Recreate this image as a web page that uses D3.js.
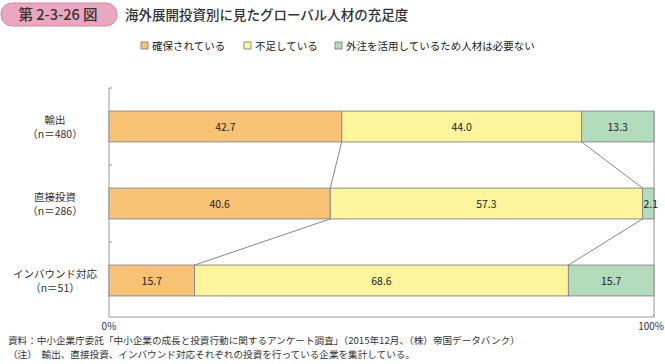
<!DOCTYPE html>
<html>
<head>
<meta charset="utf-8">
<script src="https://cdn.jsdelivr.net/npm/d3@7"></script>
<style>
  body { margin: 0; background: #fff; }
  svg { font-family: "Noto Sans CJK JP", "Noto Sans", sans-serif; }
</style>
</head>
<body>
<div id="container"></div>
<script>
/* DATA */
const categories = ["輸出", "直接投資", "インバウンド対応"];
const sampleSizes = ["（n＝480）", "（n＝286）", "（n＝51）"];
const seriesNames = ["確保されている", "不足している", "外注を活用しているため人材は必要ない"];
const secured = [42.7, 40.6, 15.7];
const lacking = [44.0, 57.3, 68.6];
const outsourced = [13.3, 2.1, 15.7];
const xTickLabels = ["0%", "100%"];

/* CONSTANTS */
const width = 665, height = 364;
const colors = ["#f9c375", "#fff59d", "#b3dcbd"];
const plot = { left: 109, right: 654, top: 88, bottom: 319 };

const svg = d3.select("#container").append("svg")
  .attr("width", width)
  .attr("height", height);

// title badge
svg.append("rect")
  .attr("x", 1).attr("y", 3).attr("width", 116).attr("height", 23)
  .attr("rx", 11)
  .attr("fill", "#e9a8bf").attr("stroke", "#d787a4");
svg.append("text")
  .attr("x", 58).attr("y", 20)
  .attr("text-anchor", "middle")
  .attr("font-size", 14.5).attr("font-weight", 500).attr("fill", "#333")
  .text("第 2-3-26 図");
svg.append("text")
  .attr("x", 125).attr("y", 20)
  .attr("font-size", 13.5).attr("font-weight", 500).attr("fill", "#333")
  .text("海外展開投資別に見たグローバル人材の充足度");

// scales
const xScale = d3.scaleLinear().domain([0, 100]).range([plot.left, plot.right]);
const yScale = d3.scaleBand().domain(categories).range([plot.top, plot.bottom]).paddingInner(0.6).paddingOuter(0.3);

// legend
const legendX = [141, 244, 335];
const legend = svg.append("g");
seriesNames.forEach((name, i) => {
  legend.append("rect")
    .attr("x", legendX[i]).attr("y", 42).attr("width", 7).attr("height", 7)
    .attr("fill", colors[i]).attr("stroke", "#777").attr("stroke-width", 0.8);
  legend.append("text")
    .attr("x", legendX[i] + 11).attr("y", 49.5)
    .attr("font-size", 10.5).attr("fill", "#222")
    .text(name);
});

// axis frame
const base = plot.bottom - 2;
const frame = svg.append("g").attr("stroke", "#999").attr("fill", "none");
frame.append("line").attr("x1", plot.left).attr("x2", plot.left).attr("y1", plot.top).attr("y2", base);
frame.append("line").attr("x1", plot.left).attr("x2", plot.right).attr("y1", base).attr("y2", base);
frame.append("line").attr("x1", plot.right).attr("x2", plot.right).attr("y1", yScale(categories[0])).attr("y2", base);
const step = yScale.step();
d3.range(0, categories.length).forEach(i => {
  const ty = plot.top + i * step;
  frame.append("line").attr("x1", plot.left).attr("x2", plot.left + 3).attr("y1", ty).attr("y2", ty);
});
frame.append("line").attr("x1", plot.right).attr("x2", plot.right).attr("y1", base).attr("y2", base - 3);

xTickLabels.forEach((t, i) => {
  svg.append("text")
    .attr("x", i === 0 ? xScale(0) : width - 1).attr("y", 330)
    .attr("text-anchor", i === 0 ? "middle" : "end")
    .attr("font-size", 10).attr("fill", "#333")
    .text(t);
});

// stacked bars
const rows = categories.map((c, i) => ({ cat: c, vals: [secured[i], lacking[i], outsourced[i]] }));
rows.forEach(r => {
  let cum = 0;
  r.segs = r.vals.map((v, k) => {
    const s = { k, v, x0: cum, x1: cum + v };
    cum += v;
    return s;
  });
});

const bh = yScale.bandwidth();
rows.forEach(r => {
  const g = svg.append("g");
  g.selectAll("rect")
    .data(r.segs)
    .join("rect")
    .attr("x", d => xScale(d.x0))
    .attr("y", yScale(r.cat))
    .attr("width", d => xScale(d.x1) - xScale(d.x0))
    .attr("height", bh)
    .attr("fill", d => colors[d.k])
    .attr("stroke", "#8c8c8c")
    .attr("stroke-width", 1);
  g.selectAll("text")
    .data(r.segs)
    .join("text")
    .attr("x", d => d.v < 5 ? xScale(d.x0) + 1 : (xScale(d.x0) + xScale(d.x1)) / 2)
    .attr("y", yScale(r.cat) + bh / 2 + 4)
    .attr("text-anchor", d => d.v < 5 ? "start" : "middle")
    .attr("font-size", 10.5).attr("fill", "#222")
    .text(d => d.v.toFixed(1));
});

// connector lines between bars
for (let i = 0; i < rows.length - 1; i++) {
  [0, 1].forEach(k => {
    svg.append("line")
      .attr("x1", xScale(rows[i].segs[k].x1))
      .attr("y1", yScale(rows[i].cat) + bh)
      .attr("x2", xScale(rows[i + 1].segs[k].x1))
      .attr("y2", yScale(rows[i + 1].cat))
      .attr("stroke", "#888").attr("stroke-width", 1);
  });
}

// category labels
categories.forEach((c, i) => {
  const cy = yScale(c) + bh / 2;
  svg.append("text")
    .attr("x", 55).attr("y", cy - 3)
    .attr("text-anchor", "middle")
    .attr("font-size", 10.5).attr("fill", "#333")
    .text(c);
  svg.append("text")
    .attr("x", 55).attr("y", cy + 11)
    .attr("text-anchor", "middle")
    .attr("font-size", 10.5).attr("fill", "#333")
    .text(sampleSizes[i]);
});

// notes
svg.append("text")
  .attr("x", 8).attr("y", 344)
  .attr("font-size", 9.6).attr("fill", "#333")
  .text("資料：中小企業庁委託「中小企業の成長と投資行動に関するアンケート調査」（2015年12月、（株）帝国データバンク）");
svg.append("text")
  .attr("x", 8).attr("y", 358)
  .attr("font-size", 9.6).attr("fill", "#333")
  .text("（注）　輸出、直接投資、インバウンド対応それぞれの投資を行っている企業を集計している。");
</script>
</body>
</html>
